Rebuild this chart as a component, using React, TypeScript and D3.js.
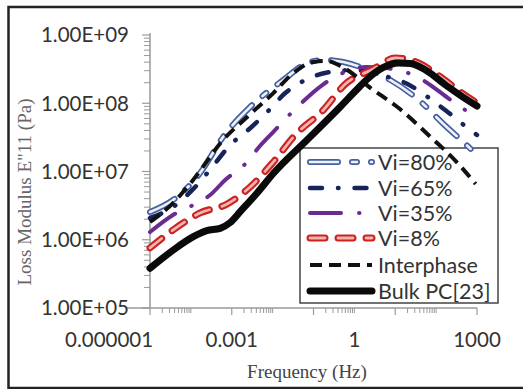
import React from "react";
import * as d3 from "d3";

// ---- data ----
const xTickLabels = [1e-6, 1e-3, 1, 1e3];
const xTickText = ["0.000001", "0.001", "1", "1000"];
const yTickValues = [1e5, 1e6, 1e7, 1e8, 1e9];
const yTickText = ["1.00E+05", "1.00E+06", "1.00E+07", "1.00E+08", "1.00E+09"];

const seriesNames = ["Vi=80%", "Vi=65%", "Vi=35%", "Vi=8%", "Interphase", "Bulk PC[23]"];

const f80 = [1e-5, 3.66e-5, 1.68e-4, 6.15e-4, 2.82e-3, 1.82e-2, 7.05e-2, 0.174, 0.537, 1.66, 7.62, 37.1, 151, 622, 1000];
const e80 = [2.55e6, 3.82e6, 9.5e6, 3.21e7, 8.81e7, 2.19e8, 3.89e8, 4.31e8, 4.02e8, 3.28e8, 2.19e8, 1.12e8, 4.97e7, 2.29e7, 1.74e7];

const f65 = [1e-5, 3.66e-5, 1.42e-4, 3.31e-4, 9.12e-4, 2.52e-3, 7.38e-3, 2.04e-2, 7.05e-2, 0.258, 1.06, 4.34, 17.8, 61.5, 191, 589, 1000];
const e65 = [2.08e6, 3.02e6, 6.34e6, 1.16e7, 2.44e7, 4.06e7, 7.45e7, 1.41e8, 2.26e8, 2.87e8, 3.07e8, 2.59e8, 1.98e8, 1.24e8, 7.45e7, 4.34e7, 3.43e7];

const f35 = [1e-5, 3.66e-5, 1.13e-4, 2.96e-4, 6.89e-4, 2.38e-3, 4.44e-3, 9.77e-3, 3.58e-2, 0.164, 0.406, 1.86, 5.75, 17.8, 46.5, 225, 1000];
const e35 = [1.3e6, 2.31e6, 3.23e6, 4.53e6, 7.5e6, 1.38e7, 2.21e7, 3.66e7, 8.24e7, 1.85e8, 2.59e8, 3.4e8, 3.28e8, 2.87e8, 2.19e8, 1.12e8, 6.08e7];

const f8 = [1e-5, 3.66e-5, 1.68e-4, 7.71e-4, 2.82e-3, 1.04e-2, 3.58e-2, 0.174, 0.601, 2.92, 10.1, 37.1, 128, 396, 1000];
const e8 = [7.6e5, 1.39e6, 2.47e6, 3.34e6, 5.93e6, 1.38e7, 3.43e7, 7.96e7, 1.91e8, 3.18e8, 4.6e8, 3.89e8, 2.43e8, 1.46e8, 1.01e8];

const fInter = [1e-5, 3.66e-5, 1.13e-4, 6.15e-4, 2.38e-3, 1.04e-2, 3.2e-2, 9.9e-2, 0.218, 0.454, 2.92, 11.3, 72.9, 335, 925];
const eInter = [1.82e6, 3.45e6, 7.5e6, 2.9e7, 6.3e7, 1.41e8, 2.77e8, 4.02e8, 4.16e8, 3.52e8, 1.56e8, 8.81e7, 3.21e7, 1.33e7, 6.56e6];

const fBulk = [1e-5, 3.72e-5, 1.15e-4, 2.45e-4, 5.2e-4, 9.1e-4, 1.61e-3, 4.12e-3, 1.05e-2, 6.93e-2, 0.454, 1.06, 2.2, 4.85, 12.0, 23.6, 55, 170, 444, 1000];
const eBulk = [3.82e5, 7.08e5, 1.11e6, 1.36e6, 1.47e6, 1.78e6, 2.58e6, 4.8e6, 9.42e6, 2.9e7, 8.9e7, 1.51e8, 2.34e8, 3.29e8, 3.89e8, 3.82e8, 3.07e8, 1.85e8, 1.24e8, 9.1e7];

const seriesF = [f80, f65, f35, f8, fInter, fBulk];
const seriesE = [e80, e65, e35, e8, eInter, eBulk];

// ---- styles ----
type Stroke = { color: string; width: number; dash?: string; cap: string };
const styles: Stroke[][] = [
  [
    { color: "#45609f", width: 6, dash: "28 14 5 14", cap: "round" },
    { color: "#eef1f8", width: 2.6, dash: "28 14 5 14", cap: "round" },
  ],
  [{ color: "#17245a", width: 4.5, dash: "12 16 0.5 16", cap: "round" }],
  [{ color: "#6a2c91", width: 4, dash: "31 18 0.5 18", cap: "round" }],
  [
    { color: "#cc2222", width: 7, dash: "15 13", cap: "round" },
    { color: "#f2b4ae", width: 2.8, dash: "15 13", cap: "round" },
  ],
  [{ color: "#111", width: 4, dash: "12 7", cap: "butt" }],
  [{ color: "#0a0a0a", width: 7, cap: "round" }],
];

const W = 523;
const H = 389;

export default function App() {
  const x = d3.scaleLog().domain([1e-5, 1e3]).range([150, 477]);
  const y = d3.scaleLog().domain([1e5, 1e9]).range([308, 35]);

  const line = d3
    .line<[number, number]>()
    .x((d) => x(d[0]))
    .y((d) => y(d[1]))
    .curve(d3.curveMonotoneX);

  // ticks
  const yMinor: number[] = [];
  for (let k = 5; k < 9; k++) for (let m = 2; m <= 9; m++) yMinor.push(m * Math.pow(10, k));
  const xMajor = [1e-5, 1e-3, 1e-1, 1e1, 1e3];
  const xMinor: number[] = [];
  [1e-5, 1e-3, 1e-1, 1e1].forEach((b) => {
    for (let m = 2; m <= 10; m++) xMinor.push(m * b);
  });

  const legendY = [162, 188, 213, 238, 265, 291];
  const tickFont = "Lato, 'Noto Sans', sans-serif";
  const axisColor = "#9a9a9a";

  return (
    <svg
      width={W}
      height={H}
      style={{ position: "absolute", left: 0, top: 0, background: "#fdfdfd" }}
    >
      <rect x={0} y={0} width={W} height={H} fill="#fdfdfd" />
      <rect x={8.5} y={7} width={540} height={381} fill="#fff" stroke="#222" strokeWidth={2.5} />

      {/* axes */}
      <line x1={150} x2={150} y1={33} y2={308} stroke={axisColor} strokeWidth={1.5} />
      <line x1={127} x2={477} y1={308} y2={308} stroke={axisColor} strokeWidth={1.5} />
      {yTickValues.map((v) => (
        <line key={"ym" + v} x1={142} x2={150} y1={y(v)} y2={y(v)} stroke={axisColor} strokeWidth={1.2} />
      ))}
      {yMinor.map((v) => (
        <line key={"yn" + v} x1={144} x2={150} y1={y(v)} y2={y(v)} stroke={axisColor} strokeWidth={1} />
      ))}
      {xMajor.map((v) => (
        <line key={"xm" + v} x1={x(v)} x2={x(v)} y1={308} y2={315} stroke={axisColor} strokeWidth={1.2} />
      ))}
      {xMinor.map((v) => (
        <line key={"xn" + v} x1={x(v)} x2={x(v)} y1={308} y2={313} stroke={axisColor} strokeWidth={1} />
      ))}

      {/* tick labels */}
      {yTickValues.map((v, i) => (
        <text
          key={"yl" + v}
          x={129}
          y={y(v)}
          dy="0.36em"
          textAnchor="end"
          fontFamily={tickFont}
          fontSize={20.5}
          fill="#333"
        >
          {yTickText[i]}
        </text>
      ))}
      {xTickLabels.map((v, i) => (
        <text
          key={"xl" + v}
          x={x(v)}
          y={347}
          textAnchor="middle"
          fontFamily={tickFont}
          fontSize={20.5}
          fill="#333"
        >
          {xTickText[i]}
        </text>
      ))}

      {/* axis titles */}
      <text
        x={307}
        y={378}
        textAnchor="middle"
        fontFamily="'Liberation Serif', 'Times New Roman', serif"
        fontSize={19}
        fill="#444"
      >
        Frequency (Hz)
      </text>
      <text
        transform="translate(31,192) rotate(-90)"
        textAnchor="middle"
        fontFamily="'Liberation Serif', 'Times New Roman', serif"
        fontSize={19}
        fill="#666"
      >
        Loss Modulus E"11 (Pa)
      </text>

      {/* legend box */}
      <rect x={300} y={148} width={198} height={155} fill="none" stroke="#444" strokeWidth={1.5} />
      {seriesNames.map((n, i) => (
        <g key={"lg" + i}>
          {styles[i].map((s, j) => (
            <line
              key={j}
              x1={310}
              x2={372}
              y1={legendY[i]}
              y2={legendY[i]}
              stroke={s.color}
              strokeWidth={s.width}
              strokeDasharray={s.dash}
              strokeLinecap={s.cap as any}
            />
          ))}
          <text
            x={378}
            y={legendY[i]}
            dy="0.36em"
            fontFamily={tickFont}
            fontSize={21.5}
            fill="#333"
          >
            {n}
          </text>
        </g>
      ))}

      {/* series */}
      {seriesNames.map((n, i) => {
        const pts = seriesF[i].map((f, k) => [f, seriesE[i][k]] as [number, number]);
        const d = line(pts) || "";
        return (
          <g key={"s" + i}>
            {styles[i].map((s, j) => (
              <path
                key={j}
                d={d}
                fill="none"
                stroke={s.color}
                strokeWidth={s.width}
                strokeDasharray={s.dash}
                strokeLinecap={s.cap as any}
                strokeLinejoin="round"
              />
            ))}
          </g>
        );
      })}
    </svg>
  );
}
